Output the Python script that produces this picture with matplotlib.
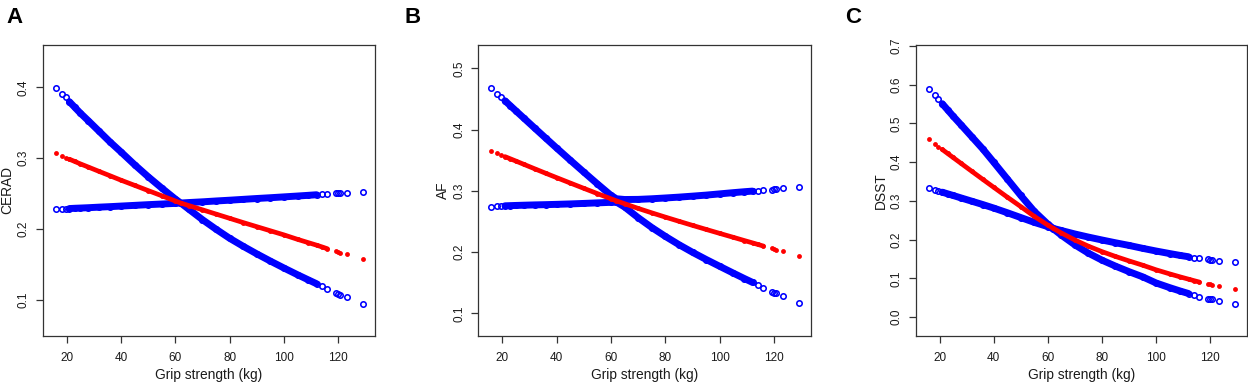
import matplotlib
matplotlib.use("Agg")
import matplotlib.pyplot as plt
import numpy as np

plt.rcParams['font.family'] = ['Liberation Sans', 'DejaVu Sans']

# ---------------- data ----------------
grip = [16.0, 18.2, 19.6, 21, 23, 25, 28, 32, 36, 40, 45, 50, 55, 60, 62, 65,
        70, 75, 80, 85, 90, 95, 100, 105, 109, 112, 114, 116,
        119.2, 120.0, 120.8, 123.2, 129.0]

# Panel A: CERAD
cerad_fit = [0.3068, 0.3032, 0.3009, 0.2987, 0.2955, 0.2922, 0.2876, 0.2814, 0.2753, 0.2691,
             0.2618, 0.2544, 0.2471, 0.2397, 0.2368, 0.2332, 0.2272, 0.2212, 0.2152, 0.2092,
             0.2034, 0.1976, 0.1918, 0.1855, 0.1808, 0.1773, 0.1748, 0.1722,
             0.1685, 0.1676, 0.1667, 0.1642, 0.1582]
cerad_upper = [0.399, 0.391, 0.386, 0.380, 0.372, 0.364, 0.353, 0.338, 0.323, 0.309,
               0.291, 0.274, 0.258, 0.2425, 0.2368, 0.2375, 0.2385, 0.2397, 0.2408, 0.2420,
               0.2432, 0.2443, 0.2455, 0.2467, 0.2477, 0.2485, 0.2490, 0.2497,
               0.2505, 0.2507, 0.2509, 0.2515, 0.2530]
cerad_lower = [0.2280, 0.2284, 0.2287, 0.2290, 0.2294, 0.2297, 0.2302, 0.2310, 0.2317, 0.2325,
               0.2335, 0.2345, 0.2354, 0.2363, 0.2368, 0.2280, 0.2133, 0.1998, 0.1870, 0.1757,
               0.1650, 0.1548, 0.1450, 0.1355, 0.1282, 0.1228, 0.1192, 0.1156,
               0.1102, 0.1089, 0.1075, 0.1035, 0.0948]

# Panel B: AF
af_fit = [0.3650, 0.3610, 0.3584, 0.3558, 0.3522, 0.3486, 0.3431, 0.3358, 0.3286, 0.3215,
          0.3127, 0.3040, 0.2954, 0.2869, 0.2836, 0.2789, 0.2712, 0.2640, 0.2570, 0.2502,
          0.2435, 0.2369, 0.2304, 0.2240, 0.2188, 0.2150, 0.2124, 0.2098,
          0.2060, 0.2051, 0.2041, 0.2013, 0.1944]
af_upper = [0.4675, 0.4585, 0.4527, 0.4470, 0.4388, 0.4306, 0.4184, 0.4021, 0.3859, 0.3698,
            0.3500, 0.3305, 0.3112, 0.2925, 0.2870, 0.2858, 0.2860, 0.2870, 0.2883, 0.2897,
            0.2913, 0.2930, 0.2950, 0.2970, 0.2985, 0.2995, 0.3000, 0.3006,
            0.3020, 0.3024, 0.3028, 0.3038, 0.3066]
af_lower = [0.2742, 0.2748, 0.2752, 0.2755, 0.2758, 0.2761, 0.2765, 0.2770, 0.2774, 0.2779,
            0.2786, 0.2794, 0.2803, 0.2812, 0.2815, 0.2735, 0.2560, 0.2400, 0.2255, 0.2120,
            0.1995, 0.1878, 0.1766, 0.1655, 0.1568, 0.1505, 0.1463, 0.1420,
            0.1355, 0.1340, 0.1325, 0.1278, 0.1165]

# Panel C: DSST
dsst_fit = [0.4588, 0.4472, 0.4400, 0.4328, 0.4224, 0.4121, 0.3966, 0.3760, 0.3555, 0.3352,
            0.3099, 0.2853, 0.2600, 0.2375, 0.2292, 0.2172, 0.1990, 0.1830, 0.1690, 0.1565,
            0.1450, 0.1340, 0.1220, 0.1115, 0.1035, 0.0978, 0.0940, 0.0903,
            0.0858, 0.0847, 0.0836, 0.0800, 0.0712]
dsst_upper = [0.590, 0.573, 0.562, 0.551, 0.535, 0.519, 0.496, 0.465, 0.434, 0.400,
              0.357, 0.314, 0.273, 0.240, 0.229, 0.2235, 0.2145, 0.2065, 0.1990, 0.1918,
              0.1850, 0.1775, 0.1705, 0.1640, 0.1590, 0.1557, 0.1535, 0.1513,
              0.1488, 0.1482, 0.1476, 0.1457, 0.1410]
dsst_lower = [0.3345, 0.3290, 0.3255, 0.3225, 0.3182, 0.3140, 0.3075, 0.2990, 0.2905, 0.2815,
              0.2695, 0.2570, 0.2445, 0.2335, 0.2280, 0.2115, 0.1865, 0.1650, 0.1470, 0.1315,
              0.1172, 0.1040, 0.0880, 0.0760, 0.0670, 0.0607, 0.0565, 0.0525,
              0.0478, 0.0468, 0.0457, 0.0420, 0.0330]

panel_letters = ["A", "B", "C"]
y_names = ["CERAD", "AF", "DSST"]
x_name = "Grip strength (kg)"
x_ticks = [20, 40, 60, 80, 100, 120]
y_ticks = [[0.1, 0.2, 0.3, 0.4],
           [0.1, 0.2, 0.3, 0.4, 0.5],
           [0.0, 0.1, 0.2, 0.3, 0.4, 0.5, 0.6, 0.7]]
y_limits = [(0.049, 0.460), (0.063, 0.538), (-0.049, 0.7026)]
x_limits = (11.2, 133.5)

panels = [(cerad_fit, cerad_upper, cerad_lower),
          (af_fit, af_upper, af_lower),
          (dsst_fit, dsst_upper, dsst_lower)]

# ---------------- layout ----------------
W, H = 1248, 382
fig = plt.figure(figsize=(W / 100, H / 100), dpi=100)

ax_px = [(42.7, 375.0), (478.3, 811.0), (915.7, 1246.7)]
top_px, bot_px = 45.0, 336.0
letter_px = [6, 405, 845]

BLUE = (0, 0, 1)
RED = (1, 0, 0)
SPINE = "#333333"

g = np.array(grip)
blue_band = (g >= 21) & (g <= 112)
red_band = (g >= 21) & (g <= 116)

for i, (fit, up, lo) in enumerate(panels):
    l, r = ax_px[i]
    ax = fig.add_axes([l / W, 1 - bot_px / H, (r - l) / W, (bot_px - top_px) / H])
    up = np.array(up); lo = np.array(lo); fit = np.array(fit)

    for ser in (up, lo):
        ax.plot(g[blue_band], ser[blue_band], color=BLUE, lw=5.0,
                solid_capstyle='round', solid_joinstyle='round', zorder=2)
        ax.plot(g, ser, linestyle='none', marker='o', ms=3.9, mew=1.15,
                mec=BLUE, mfc='none', zorder=3)
    ax.plot(g[red_band], fit[red_band], color=RED, lw=3.4,
            solid_capstyle='round', solid_joinstyle='round', zorder=4)
    ax.plot(g, fit, linestyle='none', marker='o', ms=3.5, mew=0,
            mfc=RED, zorder=5)

    ax.set_xlim(*x_limits)
    ax.set_ylim(*y_limits[i])
    ax.set_xticks(x_ticks, labels=[str(t) for t in x_ticks])
    ax.set_yticks(y_ticks[i], labels=[f"{t:.1f}" for t in y_ticks[i]],
                  rotation=90, va='center', ha='center')
    ax.tick_params(axis='both', direction='out', length=5, width=0.9,
                   color=SPINE, labelsize=8.5, labelcolor='#1a1a1a')
    ax.tick_params(axis='x', pad=6.8)
    ax.tick_params(axis='y', pad=8.6)
    for s in ax.spines.values():
        s.set_color(SPINE)
        s.set_linewidth(0.9)

    ax.set_xlabel(x_name, fontsize=9.9, color='#1a1a1a', va='top')
    ax.xaxis.set_label_coords(0.5, -31.5 / (bot_px - top_px))
    ax.set_ylabel(y_names[i], fontsize=9.9, color='#1a1a1a', va='center')
    ax.yaxis.set_label_coords(-35.2 / (r - l), 0.5)

    fig.text(letter_px[i] / W, 1 - 23 / H, panel_letters[i], fontsize=16,
             fontweight='bold', ha='left', va='baseline', color='black')

fig.savefig("out.png", dpi=100)
